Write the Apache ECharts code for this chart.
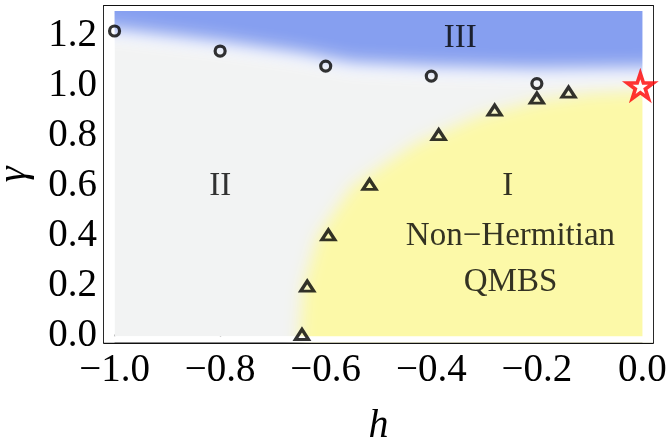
<!DOCTYPE html>
<html><head><meta charset="utf-8">
<script src="https://cdn.jsdelivr.net/npm/echarts@6/dist/echarts.min.js"></script>
<style>html,body{margin:0;padding:0;background:#fff}#c{width:670px;height:441px}</style>
</head><body><div id="c"></div>
<script>
// ---- tick values ----
const xMajor = [-1.0, -0.8, -0.6, -0.4, -0.2, 0.0];
const xMinor = [-0.95, -0.9, -0.85, -0.75, -0.7, -0.65, -0.55, -0.5, -0.45, -0.35, -0.3, -0.25, -0.15, -0.1, -0.05];
const yMajor = [0.0, 0.2, 0.4, 0.6, 0.8, 1.0, 1.2];
const yMinor = [0.05, 0.1, 0.15, 0.25, 0.3, 0.35, 0.45, 0.5, 0.55, 0.65, 0.7, 0.75, 0.85, 0.9, 0.95, 1.05, 1.1, 1.15, 1.25, 1.3];

// ---- markers ----
const circleH = [-1.0, -0.8, -0.6, -0.4, -0.2];
const circleG = [1.22, 1.14, 1.08, 1.04, 1.01];
const triH = [-0.645, -0.635, -0.595, -0.517, -0.386, -0.28, -0.2, -0.14];
const triG = [0.007, 0.2, 0.405, 0.607, 0.806, 0.904, 0.952, 0.976];
const starH = [-0.004];
const starG = [1.0];

// ---- shaded phase regions (edges read from the shading) ----
const mapH = [-1.0, 0.0];
const mapG = [0.0, 1.3];
const yellowEdgeH = [-0.65, -0.642, -0.615, -0.55, -0.43, -0.31, -0.2, -0.1, 0.0];
const yellowEdgeG = [0.0, 0.2, 0.4, 0.6, 0.77, 0.88, 0.94, 0.97, 0.98];
const blueEdgeH = [-1.0, -0.8, -0.65, -0.55, -0.4, -0.2, 0.0];
const blueEdgeG = [1.23, 1.18, 1.135, 1.095, 1.08, 1.07, 1.075];

// ---- region labels ----
const regionText = ['III', 'II', 'I', 'Non\u2212Hermitian', 'QMBS'];
const regionH = [-0.345, -0.8, -0.255, -0.25, -0.25];
const regionG = [1.19, 0.6, 0.6, 0.4, 0.215];

const GRAY = '#f2f3f3', YEL = '#fcf9a8', BLUE = '#869ff0';
const FONT = "'Liberation Serif', 'Times New Roman', serif";
const XR = [-1.02, 0.02], YR = [-0.025, 1.32];

function fmt(v) {
  if (Math.abs(v) < 1e-9) return '0.0';
  return v.toFixed(1).replace('-', '\u2212');
}

function renderBackground(params, api) {
  const cs = params.coordSys;
  const OFF = 4000;
  const pts = (H, G) => H.map((h, i) => api.coord([h, G[i]]));
  const shift = arr => arr.map(p => [p[0] + OFF, p[1]]);
  const p00 = api.coord([mapH[0], mapG[0]]);
  const p11 = api.coord([mapH[1], mapG[1]]);
  const ye = pts(yellowEdgeH, yellowEdgeG);
  const yf = ye[0], yl = ye[ye.length - 1];
  const yPoly = ye.concat([[yl[0] + 100, yl[1]], [yl[0] + 100, yf[1] + 100], [yf[0], yf[1] + 100]]);
  const be = pts(blueEdgeH, blueEdgeG);
  const bf = be[0], bl = be[be.length - 1];
  const bPoly = [[bf[0] - 100, bf[1]]].concat(be, [[bl[0] + 100, bl[1]], [bl[0] + 100, p11[1] - 150], [bf[0] - 100, p11[1] - 150]]);
  const wLine = [[bf[0] - 100, bf[1] + 4]].concat(be.map(p => [p[0], p[1] + 4]), [[bl[0] + 100, bl[1] + 4]]);
  const blurred = (type, points, color, blur) => ({
    type: type,
    shape: { points: shift(points) },
    style: { fill: color, shadowColor: color, shadowBlur: blur, shadowOffsetX: -OFF }
  });
  const children = [
    { type: 'rect', shape: { x: p00[0], y: p11[1], width: p11[0] - p00[0], height: p00[1] - p11[1] }, style: { fill: GRAY } },
    blurred('polygon', yPoly, YEL, 16),
    { type: 'polyline', shape: { points: shift(wLine) }, style: { fill: null, stroke: '#ffffff', lineWidth: 16, shadowColor: '#ffffff', shadowBlur: 14, shadowOffsetX: -OFF } },
    blurred('polygon', bPoly, BLUE, 18),
    // white margins between the frame and the shaded map
    { type: 'rect', shape: { x: cs.x - 2, y: cs.y - 2, width: p00[0] - cs.x + 2, height: cs.height + 4 }, style: { fill: '#fff' } },
    { type: 'rect', shape: { x: p11[0], y: cs.y - 2, width: cs.x + cs.width - p11[0] + 2, height: cs.height + 4 }, style: { fill: '#fff' } },
    { type: 'rect', shape: { x: cs.x - 2, y: cs.y - 2, width: cs.width + 4, height: p11[1] - cs.y + 2 }, style: { fill: '#fff' } },
    { type: 'rect', shape: { x: cs.x - 2, y: p00[1], width: cs.width + 4, height: cs.y + cs.height - p00[1] + 2 }, style: { fill: '#fff' } }
  ];
  return { type: 'group', children: children };
}

const AXC = '#000';
function xAxisDef(pos, ticks, len, showLine, labels) {
  const a = {
    type: 'value', position: pos, min: XR[0], max: XR[1],
    axisLine: { show: showLine, onZero: false, lineStyle: { color: '#111', width: 1.8 } },
    axisTick: { show: true, inside: true, length: len, customValues: ticks, lineStyle: { color: '#111', width: 1.4 } },
    axisLabel: { show: false },
    splitLine: { show: false }, minorTick: { show: false }
  };
  if (labels) {
    a.axisLabel = { show: true, customValues: ticks, formatter: fmt, fontSize: 39, fontFamily: FONT, color: AXC, margin: 9 };
    a.name = 'h'; a.nameLocation = 'middle'; a.nameGap = 64;
    a.nameTextStyle = { fontSize: 40, fontStyle: 'italic', fontFamily: FONT, color: AXC };
  }
  return a;
}
function yAxisDef(pos, ticks, len, showLine, labels) {
  const a = {
    type: 'value', position: pos, min: YR[0], max: YR[1],
    axisLine: { show: showLine, onZero: false, lineStyle: { color: '#111', width: 1.8 } },
    axisTick: { show: true, inside: true, length: len, customValues: ticks, lineStyle: { color: '#111', width: 1.4 } },
    axisLabel: { show: false },
    splitLine: { show: false }, minorTick: { show: false }
  };
  if (labels) {
    a.axisLabel = { show: true, customValues: ticks, formatter: fmt, fontSize: 39, fontFamily: FONT, color: AXC, margin: 7 };
    a.name = '\u03b3'; a.nameLocation = 'middle'; a.nameGap = 70; a.nameRotate = 90;
    a.nameTextStyle = { fontSize: 40, fontStyle: 'italic', fontFamily: FONT, color: AXC };
  }
  return a;
}

const hollow = { color: 'rgba(0,0,0,0)', borderColor: '#000', borderWidth: 3.2 };
const starPath = 'path://M50,0 L61.8,35.4 L99,35.4 L68.9,57.3 L80.3,92.7 L50,70.8 L19.7,92.7 L31.1,57.3 L1,35.4 L38.2,35.4 Z';

const chart = echarts.init(document.getElementById('c'), null, { renderer: 'canvas' });
chart.setOption({
  animation: false,
  backgroundColor: '#fff',
  grid: { left: 104, right: 17, top: 6, bottom: 98.5, containLabel: false, outerBoundsMode: 'none' },
  xAxis: [
    xAxisDef('bottom', xMajor, 8, true, true),
    xAxisDef('bottom', xMinor, 4.5, false, false),
    xAxisDef('top', xMajor, 8, true, false),
    xAxisDef('top', xMinor, 4.5, false, false)
  ],
  yAxis: [
    yAxisDef('left', yMajor, 8, true, true),
    yAxisDef('left', yMinor, 4.5, false, false),
    yAxisDef('right', yMajor, 8, true, false),
    yAxisDef('right', yMinor, 4.5, false, false)
  ],
  series: [
    { type: 'custom', renderItem: renderBackground, data: [[-0.5, 0.65]], clip: true, silent: true, z: 1 },
    { type: 'scatter', name: 'circles', data: circleH.map((h, i) => [h, circleG[i]]), symbol: 'circle', symbolSize: 10, itemStyle: hollow, z: 5, silent: true },
    { type: 'scatter', name: 'triangles', data: triH.map((h, i) => [h, triG[i]]), symbol: 'triangle', symbolSize: [13, 10], itemStyle: hollow, z: 5, silent: true },
    { type: 'scatter', name: 'star', data: starH.map((h, i) => [h, starG[i]]), symbol: starPath, symbolSize: [26, 25], itemStyle: { color: '#fff', borderColor: '#ff0000', borderWidth: 3.6 }, z: 6, silent: true },
    { type: 'scatter', name: 'labels', data: regionH.map((h, i) => [h, regionG[i], regionText[i]]), symbolSize: 0, z: 7, silent: true,
      label: { show: true, position: 'inside', formatter: p => p.data[2], fontSize: 33, fontFamily: FONT, color: '#000' } }
  ]
});
</script></body></html>
